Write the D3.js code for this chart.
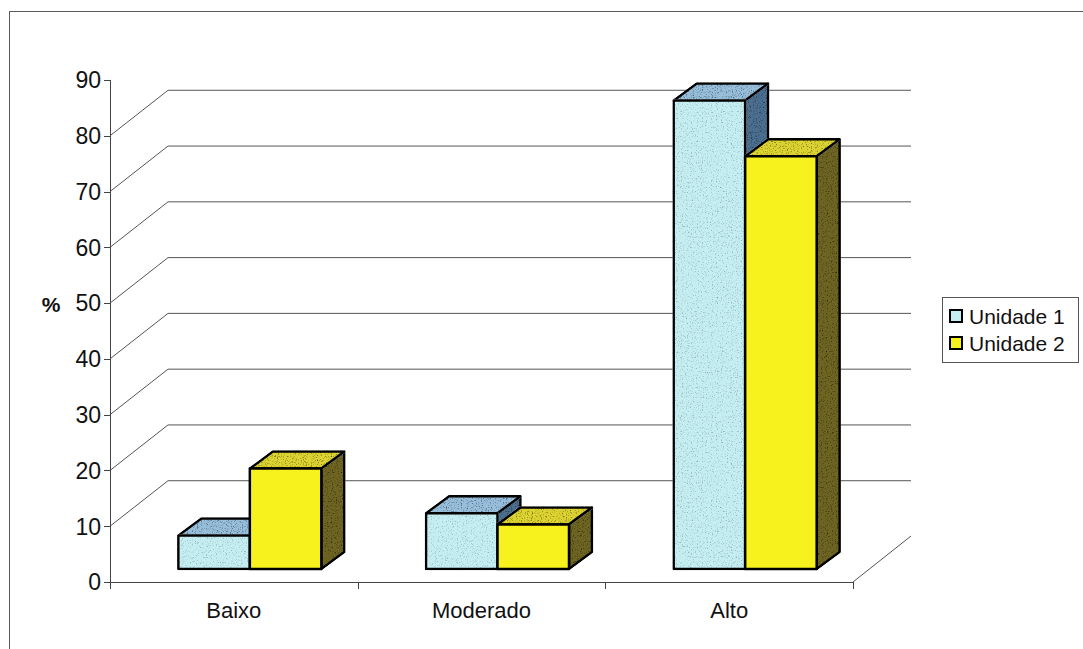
<!DOCTYPE html>
<html>
<head>
<meta charset="utf-8">
<script src="https://cdn.jsdelivr.net/npm/d3@7"></script>
<style>
  html, body { margin: 0; padding: 0; background: #ffffff; }
  svg { display: block; }
  text { font-family: "Liberation Sans", Arial, sans-serif; fill: #111; }
</style>
</head>
<body>
<svg id="chart" width="1083" height="649"></svg>
<script>
// Data
const categories = ["Baixo", "Moderado", "Alto"];
const seriesNames = ["Unidade 1", "Unidade 2"];
const unidade1 = [6, 10, 84];
const unidade2 = [18, 8, 74];
const yTicks = [0, 10, 20, 30, 40, 50, 60, 70, 80, 90];

const svg = d3.select("#chart");

// Face colours per series: front, top, side
const palette = {
  "Unidade 1": { front: "#c4eef2", top: "#97bfdc", side: "#4a6f90" },
  "Unidade 2": { front: "#f7f21e", top: "#ddd431", side: "#6e6522" }
};

// Speckled print texture for bar faces
const defs = svg.append("defs");
function grain(id, freq, slope, intercept) {
  const f = defs.append("filter").attr("id", id)
    .attr("x", "-5%").attr("y", "-5%").attr("width", "110%").attr("height", "110%")
    .attr("color-interpolation-filters", "sRGB");
  f.append("feTurbulence").attr("type", "fractalNoise")
    .attr("baseFrequency", freq).attr("numOctaves", 2).attr("seed", 7).attr("result", "noise");
  f.append("feColorMatrix").attr("in", "noise").attr("type", "saturate").attr("values", 0).attr("result", "gray");
  const ct = f.append("feComponentTransfer").attr("in", "gray").attr("result", "g2");
  ["feFuncR", "feFuncG", "feFuncB"].forEach(fn =>
    ct.append(fn).attr("type", "linear").attr("slope", slope).attr("intercept", intercept));
  ct.append("feFuncA").attr("type", "linear").attr("slope", 0).attr("intercept", 1);
  f.append("feBlend").attr("in", "SourceGraphic").attr("in2", "g2").attr("mode", "multiply").attr("result", "b");
  f.append("feComposite").attr("in", "b").attr("in2", "SourceGraphic").attr("operator", "in");
}
grain("grainStrong", 0.8, 2.2, -0.05);
grain("grainSoft", 0.8, 1.2, 0.45);

// Outer frame
svg.append("rect")
  .attr("x", 9.5).attr("y", 11.5).attr("width", 1090).attr("height", 660)
  .attr("fill", "none").attr("stroke", "#5a5a5a").attr("stroke-width", 1);

// Plot geometry (front plane of the floor)
const x0 = 110, x1 = 853;
const y = d3.scaleLinear().domain([0, 90]).range([582, 80]);
const depth = { dx: 58, dy: 46 };           // wall depth projection
const barShift = { dx: 16, dy: 13 };        // bars set back into the floor
const barDepth = { dx: 23, dy: 17 };        // thickness of each bar

const xCat = d3.scaleBand().domain(categories).range([x0, x1]);
const groupW = 143;
const xSer = d3.scaleBand().domain(seriesNames).range([0, groupW]);

// Back wall gridlines and the diagonals on the side wall
const grid = svg.append("g").attr("stroke", "#555").attr("stroke-width", 1).attr("fill", "none");
yTicks.filter(v => v > 0 && v < 90).forEach(v => {
  const yf = y(v), yb = y(v) - depth.dy;
  grid.append("line").attr("x1", x0 + depth.dx).attr("x2", x1 + depth.dx)
    .attr("y1", yb + 0.5).attr("y2", yb + 0.5);
  grid.append("line").attr("x1", x0).attr("y1", yf)
    .attr("x2", x0 + depth.dx).attr("y2", yb + 0.5);
});
// floor right edge
grid.append("line").attr("x1", x1).attr("y1", y(0))
  .attr("x2", x1 + depth.dx).attr("y2", y(0) - depth.dy);

// Value axis
const axisG = svg.append("g").attr("stroke", "#444").attr("stroke-width", 1);
axisG.append("line").attr("x1", x0 + 0.5).attr("x2", x0 + 0.5).attr("y1", y(90)).attr("y2", y(0) + 7);
axisG.append("line").attr("x1", x0).attr("x2", x1).attr("y1", y(0) + 0.5).attr("y2", y(0) + 0.5);
yTicks.forEach(v => {
  axisG.append("line").attr("x1", x0 - 6).attr("x2", x0).attr("y1", Math.round(y(v)) + 0.5).attr("y2", Math.round(y(v)) + 0.5);
});
// category ticks
categories.forEach(c => {
  const xt = Math.round(xCat(c) + xCat.bandwidth()) + 0.5;
  axisG.append("line").attr("x1", xt).attr("x2", xt).attr("y1", y(0)).attr("y2", y(0) + 7);
});

svg.append("g").selectAll("text").data(yTicks).join("text")
  .attr("x", 101).attr("y", d => y(d)).attr("dy", "0.36em")
  .attr("text-anchor", "end").style("font-size", "23px").text(d => d);

svg.append("text").attr("x", 51).attr("y", 304).attr("dy", "0.36em")
  .attr("text-anchor", "middle").style("font-size", "21px").style("font-weight", "bold").text("%");

svg.append("g").selectAll("text").data(categories).join("text")
  .attr("x", d => xCat(d) + xCat.bandwidth() / 2).attr("y", 610).attr("dy", "0.36em")
  .attr("text-anchor", "middle").style("font-size", "22px").text(d => d);

// 3D bars
const values = { "Unidade 1": unidade1, "Unidade 2": unidade2 };
const bars = svg.append("g").attr("stroke", "#000").attr("stroke-width", 2.5).attr("stroke-linejoin", "round");
categories.forEach((c, i) => {
  seriesNames.forEach(s => {
    const v = values[s][i];
    const col = palette[s];
    const left = xCat(c) + (xCat.bandwidth() - groupW) / 2 + xSer(s) + barShift.dx;
    const w = xSer.bandwidth();
    const top = y(v) - barShift.dy;
    const bot = y(0) - barShift.dy;
    const dx = barDepth.dx, dy = barDepth.dy;
    const g = bars.append("g");
    g.append("polygon")
      .attr("points", [[left + w, top], [left + w + dx, top - dy], [left + w + dx, bot - dy], [left + w, bot]].join(" "))
      .attr("fill", col.side).attr("filter", "url(#grainStrong)");
    g.append("polygon")
      .attr("points", [[left, top], [left + dx, top - dy], [left + w + dx, top - dy], [left + w, top]].join(" "))
      .attr("fill", col.top).attr("filter", "url(#grainStrong)");
    g.append("rect")
      .attr("x", left).attr("y", top).attr("width", w).attr("height", bot - top)
      .attr("fill", col.front).attr("filter", s === "Unidade 1" ? "url(#grainSoft)" : null);
  });
});

// Legend
const lg = svg.append("g");
lg.append("rect").attr("x", 942.5).attr("y", 297.5).attr("width", 136).attr("height", 65)
  .attr("fill", "#fff").attr("stroke", "#555").attr("stroke-width", 1);
seriesNames.forEach((s, i) => {
  const cy = 316 + i * 27;
  lg.append("rect").attr("x", 950).attr("y", cy - 6).attr("width", 12).attr("height", 12)
    .attr("fill", palette[s].front).attr("stroke", "#000").attr("stroke-width", 2);
  lg.append("text").attr("x", 969).attr("y", cy).attr("dy", "0.36em")
    .style("font-size", "21px").text(s);
});
</script>
</body>
</html>
